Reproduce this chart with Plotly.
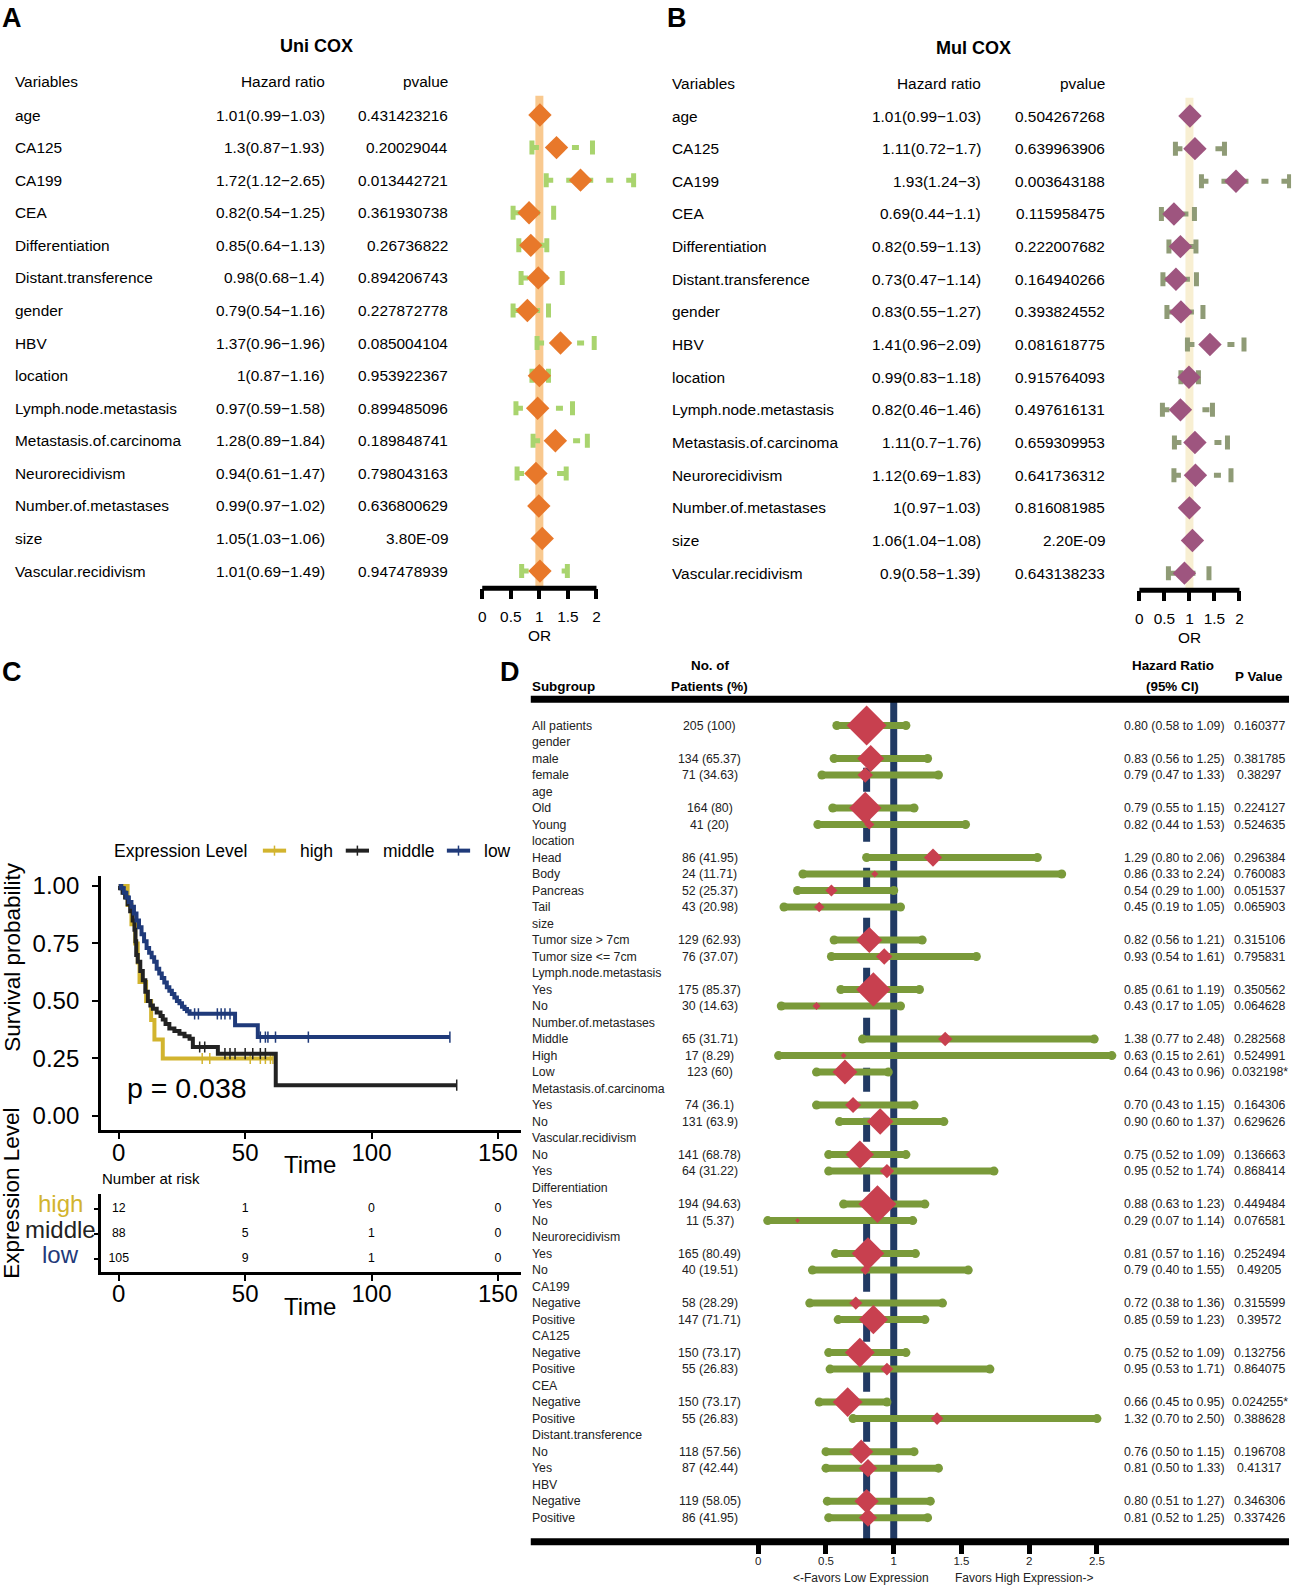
import plotly.graph_objects as go
import numpy as np

W, H = 1292, 1585
S = 1.011  # layout coordinates below were measured on a slightly reduced view
def px(x): return max(0.0, min(1.0, S * x / W))
def py(y): return max(0.0, min(1.0, 1 - S * y / H))

FONT = "Liberation Sans, Arial, Helvetica, sans-serif"

# ---------------- Panel A / B data ----------------
variables = ["age", "CA125", "CA199", "CEA", "Differentiation", "Distant.transference",
             "gender", "HBV", "location", "Lymph.node.metastasis", "Metastasis.of.carcinoma",
             "Neurorecidivism", "Number.of.metastases", "size", "Vascular.recidivism"]
uni_hr = [1.01, 1.3, 1.72, 0.82, 0.85, 0.98, 0.79, 1.37, 1.0, 0.97, 1.28, 0.94, 0.99, 1.05, 1.01]
uni_lo = [0.99, 0.87, 1.12, 0.54, 0.64, 0.68, 0.54, 0.96, 0.87, 0.59, 0.89, 0.61, 0.97, 1.03, 0.69]
uni_hi = [1.03, 1.93, 2.65, 1.25, 1.13, 1.4, 1.16, 1.96, 1.16, 1.58, 1.84, 1.47, 1.02, 1.06, 1.49]
uni_p = ["0.431423216", "0.20029044", "0.013442721", "0.361930738", "0.26736822", "0.894206743",
         "0.227872778", "0.085004104", "0.953922367", "0.899485096", "0.189848741", "0.798043163",
         "0.636800629", "3.80E-09", "0.947478939"]
mul_hr = [1.01, 1.11, 1.93, 0.69, 0.82, 0.73, 0.83, 1.41, 0.99, 0.82, 1.11, 1.12, 1.0, 1.06, 0.9]
mul_lo = [0.99, 0.72, 1.24, 0.44, 0.59, 0.47, 0.55, 0.96, 0.83, 0.46, 0.7, 0.69, 0.97, 1.04, 0.58]
mul_hi = [1.03, 1.7, 3.0, 1.1, 1.13, 1.14, 1.27, 2.09, 1.18, 1.46, 1.76, 1.83, 1.03, 1.08, 1.39]
mul_p = ["0.504267268", "0.639963906", "0.003643188", "0.115958475", "0.222007682", "0.164940266",
         "0.393824552", "0.081618775", "0.915764093", "0.497616131", "0.659309953", "0.641736312",
         "0.816081985", "2.20E-09", "0.643138233"]
or_ticks = [0, 0.5, 1, 1.5, 2]

# ---------------- Panel C data ----------------
high_t = [0, 3.5, 5, 6.5, 7.5, 8.2, 10.8, 12.8, 14.1, 17.4, 61]
high_s = [1.0, 0.917, 0.833, 0.75, 0.667, 0.583, 0.5, 0.417, 0.333, 0.25, 0.25]
middle_t = [0, 0.5, 1.5, 2.5, 3.5, 4.5, 5.5, 6.2, 6.6, 6.9, 7.5, 8.5, 9.5, 10.5, 11.5, 12.5,
            13.5, 15, 16.5, 17.4, 18.5, 20, 22, 24, 26, 28, 29.3, 39.2, 62.1, 133.7]
middle_s = [1.0, 0.99, 0.97, 0.95, 0.92, 0.89, 0.85, 0.81, 0.76, 0.70, 0.67, 0.63, 0.59, 0.54,
            0.50, 0.48, 0.466, 0.45, 0.435, 0.42, 0.40, 0.38, 0.37, 0.358, 0.347, 0.336, 0.30,
            0.271, 0.134, 0.134]
low_t = [0, 1, 2, 3, 4, 5, 6, 7, 8, 9, 10, 11, 12, 13, 14, 15, 16, 17, 18, 19, 20, 21, 22, 23,
         24, 25, 26, 27, 28, 46, 55, 131]
low_s = [1.0, 0.99, 0.97, 0.95, 0.93, 0.91, 0.88, 0.85, 0.82, 0.79, 0.76, 0.73, 0.71, 0.69,
         0.67, 0.64, 0.62, 0.60, 0.58, 0.56, 0.545, 0.53, 0.515, 0.50, 0.49, 0.475, 0.465, 0.455,
         0.444, 0.394, 0.343, 0.343]
high_cens = [33, 36, 52, 56, 58, 60, 61]
middle_cens = [32, 34, 42, 44, 46, 50, 53, 56, 58, 133.7]
low_cens = [30, 31.5, 39, 40.5, 42, 44, 56, 58, 59, 62, 75, 131]
risk_times = [0, 50, 100, 150]
risk_groups = ["high", "middle", "low"]
risk_high = [12, 1, 0, 0]
risk_middle = [88, 5, 1, 0]
risk_low = [105, 9, 1, 0]
km_xticks = [0, 50, 100, 150]
km_yticks = [0, 0.25, 0.5, 0.75, 1.0]

# ---------------- Panel D data ----------------
sub_labels = ["All patients", "gender", "male", "female", "age", "Old", "Young", "location",
              "Head", "Body", "Pancreas", "Tail", "size", "Tumor size > 7cm", "Tumor size <= 7cm",
              "Lymph.node.metastasis", "Yes", "No", "Number.of.metastases", "Middle", "High", "Low",
              "Metastasis.of.carcinoma", "Yes", "No", "Vascular.recidivism", "No", "Yes",
              "Differentiation", "Yes", "No", "Neurorecidivism", "Yes", "No", "CA199", "Negative",
              "Positive", "CA125", "Negative", "Positive", "CEA", "Negative", "Positive",
              "Distant.transference", "No", "Yes", "HBV", "Negative", "Positive"]
sub_n = [205, None, 134, 71, None, 164, 41, None, 86, 24, 52, 43, None, 129, 76, None, 175, 30,
         None, 65, 17, 123, None, 74, 131, None, 141, 64, None, 194, 11, None, 165, 40, None, 58,
         147, None, 150, 55, None, 150, 55, None, 118, 87, None, 119, 86]
sub_hr = [0.80, None, 0.83, 0.79, None, 0.79, 0.82, None, 1.29, 0.86, 0.54, 0.45, None, 0.82, 0.93,
          None, 0.85, 0.43, None, 1.38, 0.63, 0.64, None, 0.70, 0.90, None, 0.75, 0.95, None, 0.88,
          0.29, None, 0.81, 0.79, None, 0.72, 0.85, None, 0.75, 0.95, None, 0.66, 1.32, None, 0.76,
          0.81, None, 0.80, 0.81]
sub_lo = [0.58, None, 0.56, 0.47, None, 0.55, 0.44, None, 0.80, 0.33, 0.29, 0.19, None, 0.56, 0.54,
          None, 0.61, 0.17, None, 0.77, 0.15, 0.43, None, 0.43, 0.60, None, 0.52, 0.52, None, 0.63,
          0.07, None, 0.57, 0.40, None, 0.38, 0.59, None, 0.52, 0.53, None, 0.45, 0.70, None, 0.50,
          0.50, None, 0.51, 0.52]
sub_hi = [1.09, None, 1.25, 1.33, None, 1.15, 1.53, None, 2.06, 2.24, 1.00, 1.05, None, 1.21, 1.61,
          None, 1.19, 1.05, None, 2.48, 2.61, 0.96, None, 1.15, 1.37, None, 1.09, 1.74, None, 1.23,
          1.14, None, 1.16, 1.55, None, 1.36, 1.23, None, 1.09, 1.71, None, 0.95, 2.50, None, 1.15,
          1.33, None, 1.27, 1.25]
sub_p = [0.160377, None, 0.381785, 0.38297, None, 0.224127, 0.524635, None, 0.296384, 0.760083,
         0.051537, 0.065903, None, 0.315106, 0.795831, None, 0.350562, 0.064628, None, 0.282568,
         0.524991, 0.032198, None, 0.164306, 0.629626, None, 0.136663, 0.868414, None, 0.449484,
         0.076581, None, 0.252494, 0.49205, None, 0.315599, 0.39572, None, 0.132756, 0.864075,
         None, 0.024255, 0.388628, None, 0.196708, 0.41317, None, 0.346306, 0.337426]
total_n = 205
overall_hr = 0.80
d_ticks = [0, 0.5, 1, 1.5, 2, 2.5]

# ---------------- colours ----------------
A_DIA, A_CI, A_REF = "#E8782A", "#A9D46E", "#F9C98F"
B_DIA, B_CI, B_REF = "#9E557F", "#8F9B76", "#F8EFD2"
C_HIGH, C_MID, C_LOW = "#D2B42E", "#222222", "#1F3A7A"
D_NAVY, D_GREEN, D_RED = "#213A63", "#7A9A3A", "#C8404F"

fig = go.Figure()
ann = []
shapes = []

def text(x, y, s, size=15, anchor="left", bold=False, color="black", xref="paper", yref="paper",
         angle=0, yanchor="middle"):
    if bold:
        s = "<b>" + s + "</b>"
    ann.append(dict(x=x, y=y, xref=xref, yref=yref, text=s, showarrow=False, xanchor=anchor,
                    yanchor=yanchor, textangle=angle, borderpad=0,
                    font=dict(family=FONT, size=size, color=color)))

def fmt(v):
    return f"{v:g}"

# ---------------- Panels A and B ----------------
TS = 15.4
def cox_panel(ax, hr, lo, hi, pv, dia, ci, ref, title, x_var, x_hr, x_p, x_title, y_title, y_head,
              y_top, y_axis, row0, rowN, unit_px, zero_px, dom):
    n = len(variables)
    sp = (rowN - row0) / (n - 1)
    xa = "xaxis" if ax == "" else "xaxis" + ax
    ya = "yaxis" if ax == "" else "yaxis" + ax
    xr = "x" + ax
    yr = "y" + ax
    rows = list(range(n))
    xs, ys = [], []
    for i in rows:
        xs += [lo[i], hi[i], None]
        ys += [i, i, None]
    fig.add_trace(go.Scatter(x=xs, y=ys, mode="lines", xaxis=xr, yaxis=yr,
                             line=dict(color=ci, width=5, dash="7px,13px"), hoverinfo="skip"))
    fig.add_trace(go.Scatter(x=lo + hi, y=rows + rows, mode="markers", xaxis=xr, yaxis=yr,
                             marker=dict(symbol="line-ns", size=10, line=dict(width=5, color=ci)),
                             hoverinfo="skip"))
    fig.add_trace(go.Scatter(x=hr, y=rows, mode="markers", xaxis=xr, yaxis=yr,
                             marker=dict(symbol="diamond", size=18, color=dia, opacity=1,
                                         line=dict(width=0))))
    x0 = (dom[0] - zero_px) / unit_px
    x1 = (dom[1] - zero_px) / unit_px
    fig.layout[xa] = dict(domain=[px(dom[0]), px(dom[1])], range=[x0, x1],
                          anchor=yr, showgrid=False, zeroline=False, showline=False,
                          ticks="outside", ticklen=10, tickwidth=4, tickcolor="black",
                          tickvals=or_ticks, ticktext=[fmt(t) for t in or_ticks],
                          ticklabelstandoff=4,
                          tickfont=dict(family=FONT, size=TS, color="black"))
    fig.layout[ya] = dict(domain=[py(y_axis), py(y_top)],
                          range=[n - 1 + (y_axis - rowN) / sp, (y_top - row0) / sp],
                          anchor=xr, visible=False)
    shapes.append(dict(type="line", xref=xr, yref="paper", x0=1, x1=1, y0=py(y_axis + 1),
                       y1=py(y_top), line=dict(color=ref, width=8), layer="below"))
    shapes.append(dict(type="line", xref=xr, yref="paper", x0=0, x1=2, y0=py(y_axis),
                       y1=py(y_axis), line=dict(color="black", width=5)))
    text(px(zero_px + unit_px), py(y_axis + 47), "OR", size=TS, anchor="center")
    text(px(x_title), py(y_title), title, size=18, anchor="center", bold=True)
    text(px(x_var), py(y_head), "Variables", size=TS)
    text(px(x_hr), py(y_head), "Hazard ratio", size=TS, anchor="right")
    text(px(x_p), py(y_head), "pvalue", size=TS, anchor="right")
    for i in rows:
        text(px(x_var), i, variables[i], size=TS, yref=yr)
        text(px(x_hr), i, f"{fmt(hr[i])}({fmt(lo[i])}\u2212{fmt(hi[i])})", size=TS,
             anchor="right", yref=yr)
        text(px(x_p), i, pv[i], size=TS, anchor="right", yref=yr)

cox_panel("", uni_hr, uni_lo, uni_hi, uni_p, A_DIA, A_CI, A_REF, "Uni COX",
          14, 322, 444, 313, 43, 78, 92, 580, 111, 563, 56.5, 477, (468, 642))
cox_panel("2", mul_hr, mul_lo, mul_hi, mul_p, B_DIA, B_CI, B_REF, "Mul COX",
          664, 971, 1094, 963, 45, 80, 94, 582, 112, 565, 49.5, 1127, (1112, 1277))

# ---------------- Panel C: KM ----------------
KM0, KMU = 117.5, 2.5
def step_at(ts, ss, t):
    k = np.searchsorted(np.array(ts), t, side="right") - 1
    return ss[k]

for ts, ss, cens, col, nm in [(high_t, high_s, high_cens, C_HIGH, "high"),
                              (middle_t, middle_s, middle_cens, C_MID, "middle"),
                              (low_t, low_s, low_cens, C_LOW, "low")]:
    fig.add_trace(go.Scatter(x=ts, y=ss, mode="lines", line=dict(color=col, width=4, shape="hv"),
                             xaxis="x3", yaxis="y3", name=nm))
    fig.add_trace(go.Scatter(x=cens, y=[step_at(ts, ss, c) for c in cens], mode="markers",
                             marker=dict(symbol="line-ns", size=8, line=dict(width=1.5, color=col)),
                             xaxis="x3", yaxis="y3", hoverinfo="skip"))

KM_L, KM_R = 100, 515
KM_TOP, KM_BOT, Y1PX, Y0PX = 865, 1117, 875, 1103
yu = (Y0PX - Y1PX)
fig.layout["xaxis3"] = dict(domain=[px(KM_L), px(KM_R)],
                            range=[(KM_L - KM0) / KMU, (KM_R - KM0) / KMU],
                            anchor="y3", showgrid=False, zeroline=False, showline=True,
                            linewidth=3, linecolor="black", ticks="outside", ticklen=6,
                            tickwidth=2, tickcolor="black", tickvals=km_xticks,
                            ticklabelstandoff=-7,
                            tickfont=dict(family=FONT, size=24, color="black"))
fig.layout["yaxis3"] = dict(domain=[py(KM_BOT), py(KM_TOP)],
                            range=[-(KM_BOT - Y0PX) / yu, (Y0PX - KM_TOP) / yu],
                            anchor="x3", showgrid=False, zeroline=False, showline=True,
                            linewidth=3, linecolor="black", ticks="outside", ticklen=6,
                            tickwidth=2, tickcolor="black", tickvals=km_yticks,
                            ticklabelstandoff=8,
                            tickformat=".2f", tickfont=dict(family=FONT, size=24, color="black"))
text(px(185), py(1075), "p = 0.038", size=28.5, anchor="center")
text(px(307), py(1151), "Time", size=24, anchor="center")
text(px(12), py(945), "Survival probability", size=22.5, anchor="center", angle=-90)

# legend drawn by hand
text(px(112), py(840), "Expression Level", size=17.5)
for x0, xt, col, lab in [(260, 296, C_HIGH, "high"), (342, 378, C_MID, "middle"),
                         (442, 478, C_LOW, "low")]:
    shapes.append(dict(type="line", xref="paper", yref="paper", x0=px(x0), x1=px(x0 + 23),
                       y0=py(840), y1=py(840), line=dict(color=col, width=4)))
    shapes.append(dict(type="line", xref="paper", yref="paper", x0=px(x0 + 11.5), x1=px(x0 + 11.5),
                       y0=py(835), y1=py(845), line=dict(color=col, width=1.5)))
    text(px(xt), py(840), lab, size=17.5)

# risk table
RT_TOP, RT_BOT, R0, RSP = 1180, 1258, 1195, 25
risk_vals = [risk_high, risk_middle, risk_low]
rx, ry, rt = [], [], []
for gi, vals in enumerate(risk_vals):
    for t, v in zip(risk_times, vals):
        rx.append(t); ry.append(gi); rt.append(str(v))
fig.add_trace(go.Scatter(x=rx, y=ry, mode="text", text=rt, xaxis="x4", yaxis="y4",
                         textfont=dict(family=FONT, size=12.3, color="black"), cliponaxis=False))
fig.layout["xaxis4"] = dict(domain=[px(KM_L), px(KM_R)],
                            range=[(KM_L - KM0) / KMU, (KM_R - KM0) / KMU],
                            anchor="y4", showgrid=False, zeroline=False, showline=True,
                            linewidth=3, linecolor="black", ticks="outside", ticklen=6,
                            tickwidth=2, tickcolor="black", tickvals=km_xticks,
                            ticklabelstandoff=-8,
                            tickfont=dict(family=FONT, size=24, color="black"))
fig.layout["yaxis4"] = dict(domain=[py(RT_BOT), py(RT_TOP)],
                            range=[(RT_BOT - R0) / RSP, (RT_TOP - R0) / RSP],
                            anchor="x4", showgrid=False, zeroline=False, showline=True,
                            linewidth=3, linecolor="black", ticks="outside", ticklen=4,
                            tickwidth=2, tickcolor="black", tickvals=[0, 1, 2],
                            showticklabels=False)
for gi, (lab, col) in enumerate(zip(risk_groups, [C_HIGH, C_MID, C_LOW])):
    text(px(60), gi - 0.2, lab, size=24, anchor="center", color=col, yref="y4")
text(px(100), py(1165), "Number at risk", size=15)
text(px(307), py(1292), "Time", size=24, anchor="center")
text(px(12), py(1180), "Expression Level", size=22.5, anchor="center", angle=-90)

# ---------------- Panel D ----------------
D_TOP, D_BOT, DR0, DRN = 690, 1525, 716, 1501
nr = len(sub_labels)
dsp = (DRN - DR0) / (nr - 1)
D0, DU = 750, 134
idx = [i for i in range(nr) if sub_n[i] is not None]
xs, ys = [], []
for i in idx:
    xs += [sub_lo[i], sub_hi[i], None]
    ys += [i, i, None]
fig.add_trace(go.Scatter(x=xs, y=ys, mode="lines", xaxis="x5", yaxis="y5",
                         line=dict(color=D_GREEN, width=7), hoverinfo="skip"))
fig.add_trace(go.Scatter(x=[sub_lo[i] for i in idx] + [sub_hi[i] for i in idx], y=idx + idx,
                         mode="markers", xaxis="x5", yaxis="y5",
                         marker=dict(symbol="circle", size=9, color=D_GREEN, opacity=1),
                         hoverinfo="skip"))
fig.add_trace(go.Scatter(x=[sub_hr[i] for i in idx], y=idx, mode="markers", xaxis="x5", yaxis="y5",
                         marker=dict(symbol="diamond", size=[2 + 0.14 * sub_n[i] for i in idx],
                                     color=D_RED, opacity=1, line=dict(width=0))))
fig.layout["xaxis5"] = dict(domain=[px(525), px(1275)], range=[(525 - D0) / DU, (1275 - D0) / DU],
                            anchor="y5", showgrid=False, zeroline=False, showline=False,
                            ticks="outside", ticklen=11, tickwidth=5, tickcolor="black",
                            tickvals=d_ticks, ticktext=[fmt(t) for t in d_ticks],
                            ticklabelstandoff=-3,
                            tickfont=dict(family=FONT, size=11.5, color="#222222"))
fig.layout["yaxis5"] = dict(domain=[py(D_BOT), py(D_TOP)],
                            range=[nr - 1 + (D_BOT - DRN) / dsp, (D_TOP - DR0) / dsp],
                            anchor="x5", visible=False)
shapes.append(dict(type="line", xref="x5", yref="paper", x0=overall_hr, x1=overall_hr,
                   y0=py(D_BOT), y1=py(D_TOP), layer="below",
                   line=dict(color=D_NAVY, width=7, dash="24px,26px")))
shapes.append(dict(type="line", xref="x5", yref="paper", x0=1, x1=1, y0=py(D_BOT), y1=py(D_TOP),
                   layer="below", line=dict(color=D_NAVY, width=7)))
for yy in (D_TOP, D_BOT):
    shapes.append(dict(type="line", xref="paper", yref="paper", x0=px(525), x1=px(1275),
                       y0=py(yy), y1=py(yy), line=dict(color="black", width=7)))

HS = 13.4
text(px(525), py(677), "Subgroup", size=HS, bold=True)
text(px(702), py(657), "No. of", size=HS, anchor="center", bold=True)
text(px(702), py(677), "Patients (%)", size=HS, anchor="center", bold=True)
text(px(1160), py(657), "Hazard Ratio", size=HS, anchor="center", bold=True)
text(px(1160), py(677), "(95% CI)", size=HS, anchor="center", bold=True)
text(px(1245), py(667), "P Value", size=HS, anchor="center", bold=True)
RS = 12.3
for i in range(nr):
    text(px(525), i, sub_labels[i], size=RS, yref="y5", color="#222222")
    if sub_n[i] is not None:
        pct = round(sub_n[i] / total_n * 100, 2)
        text(px(702), i, f"{sub_n[i]} ({pct:g})", size=RS, anchor="center", yref="y5",
             color="#222222")
        text(px(1162), i, f"{sub_hr[i]:.2f} ({sub_lo[i]:.2f} to {sub_hi[i]:.2f})", size=RS,
             anchor="center", yref="y5", color="#222222")
        ptxt = str(sub_p[i]) + ("*" if sub_p[i] < 0.05 else "")
        text(px(1246), i, ptxt, size=RS, anchor="center", yref="y5", color="#222222")
text(px(852), py(1561), "<-Favors Low Expression", size=12, anchor="center", color="#222222")
text(px(1013), py(1561), "Favors High Expression->", size=12, anchor="center", color="#222222")

# panel letters
for lab, x, y in [("A", 12, 15), ("B", 670, 15), ("C", 12, 663), ("D", 504, 663)]:
    text(px(x), py(y), lab, size=27, anchor="center", bold=True)

fig.update_layout(width=W, height=H, margin=dict(l=0, r=0, t=0, b=0), paper_bgcolor="white",
                  plot_bgcolor="white", showlegend=False, annotations=ann, shapes=shapes,
                  font=dict(family=FONT), hovermode=False)
fig.write_html("out.html", config={"displayModeBar": False, "staticPlot": True},
               post_script="document.body.style.margin='0px';document.body.style.overflow='hidden';")
